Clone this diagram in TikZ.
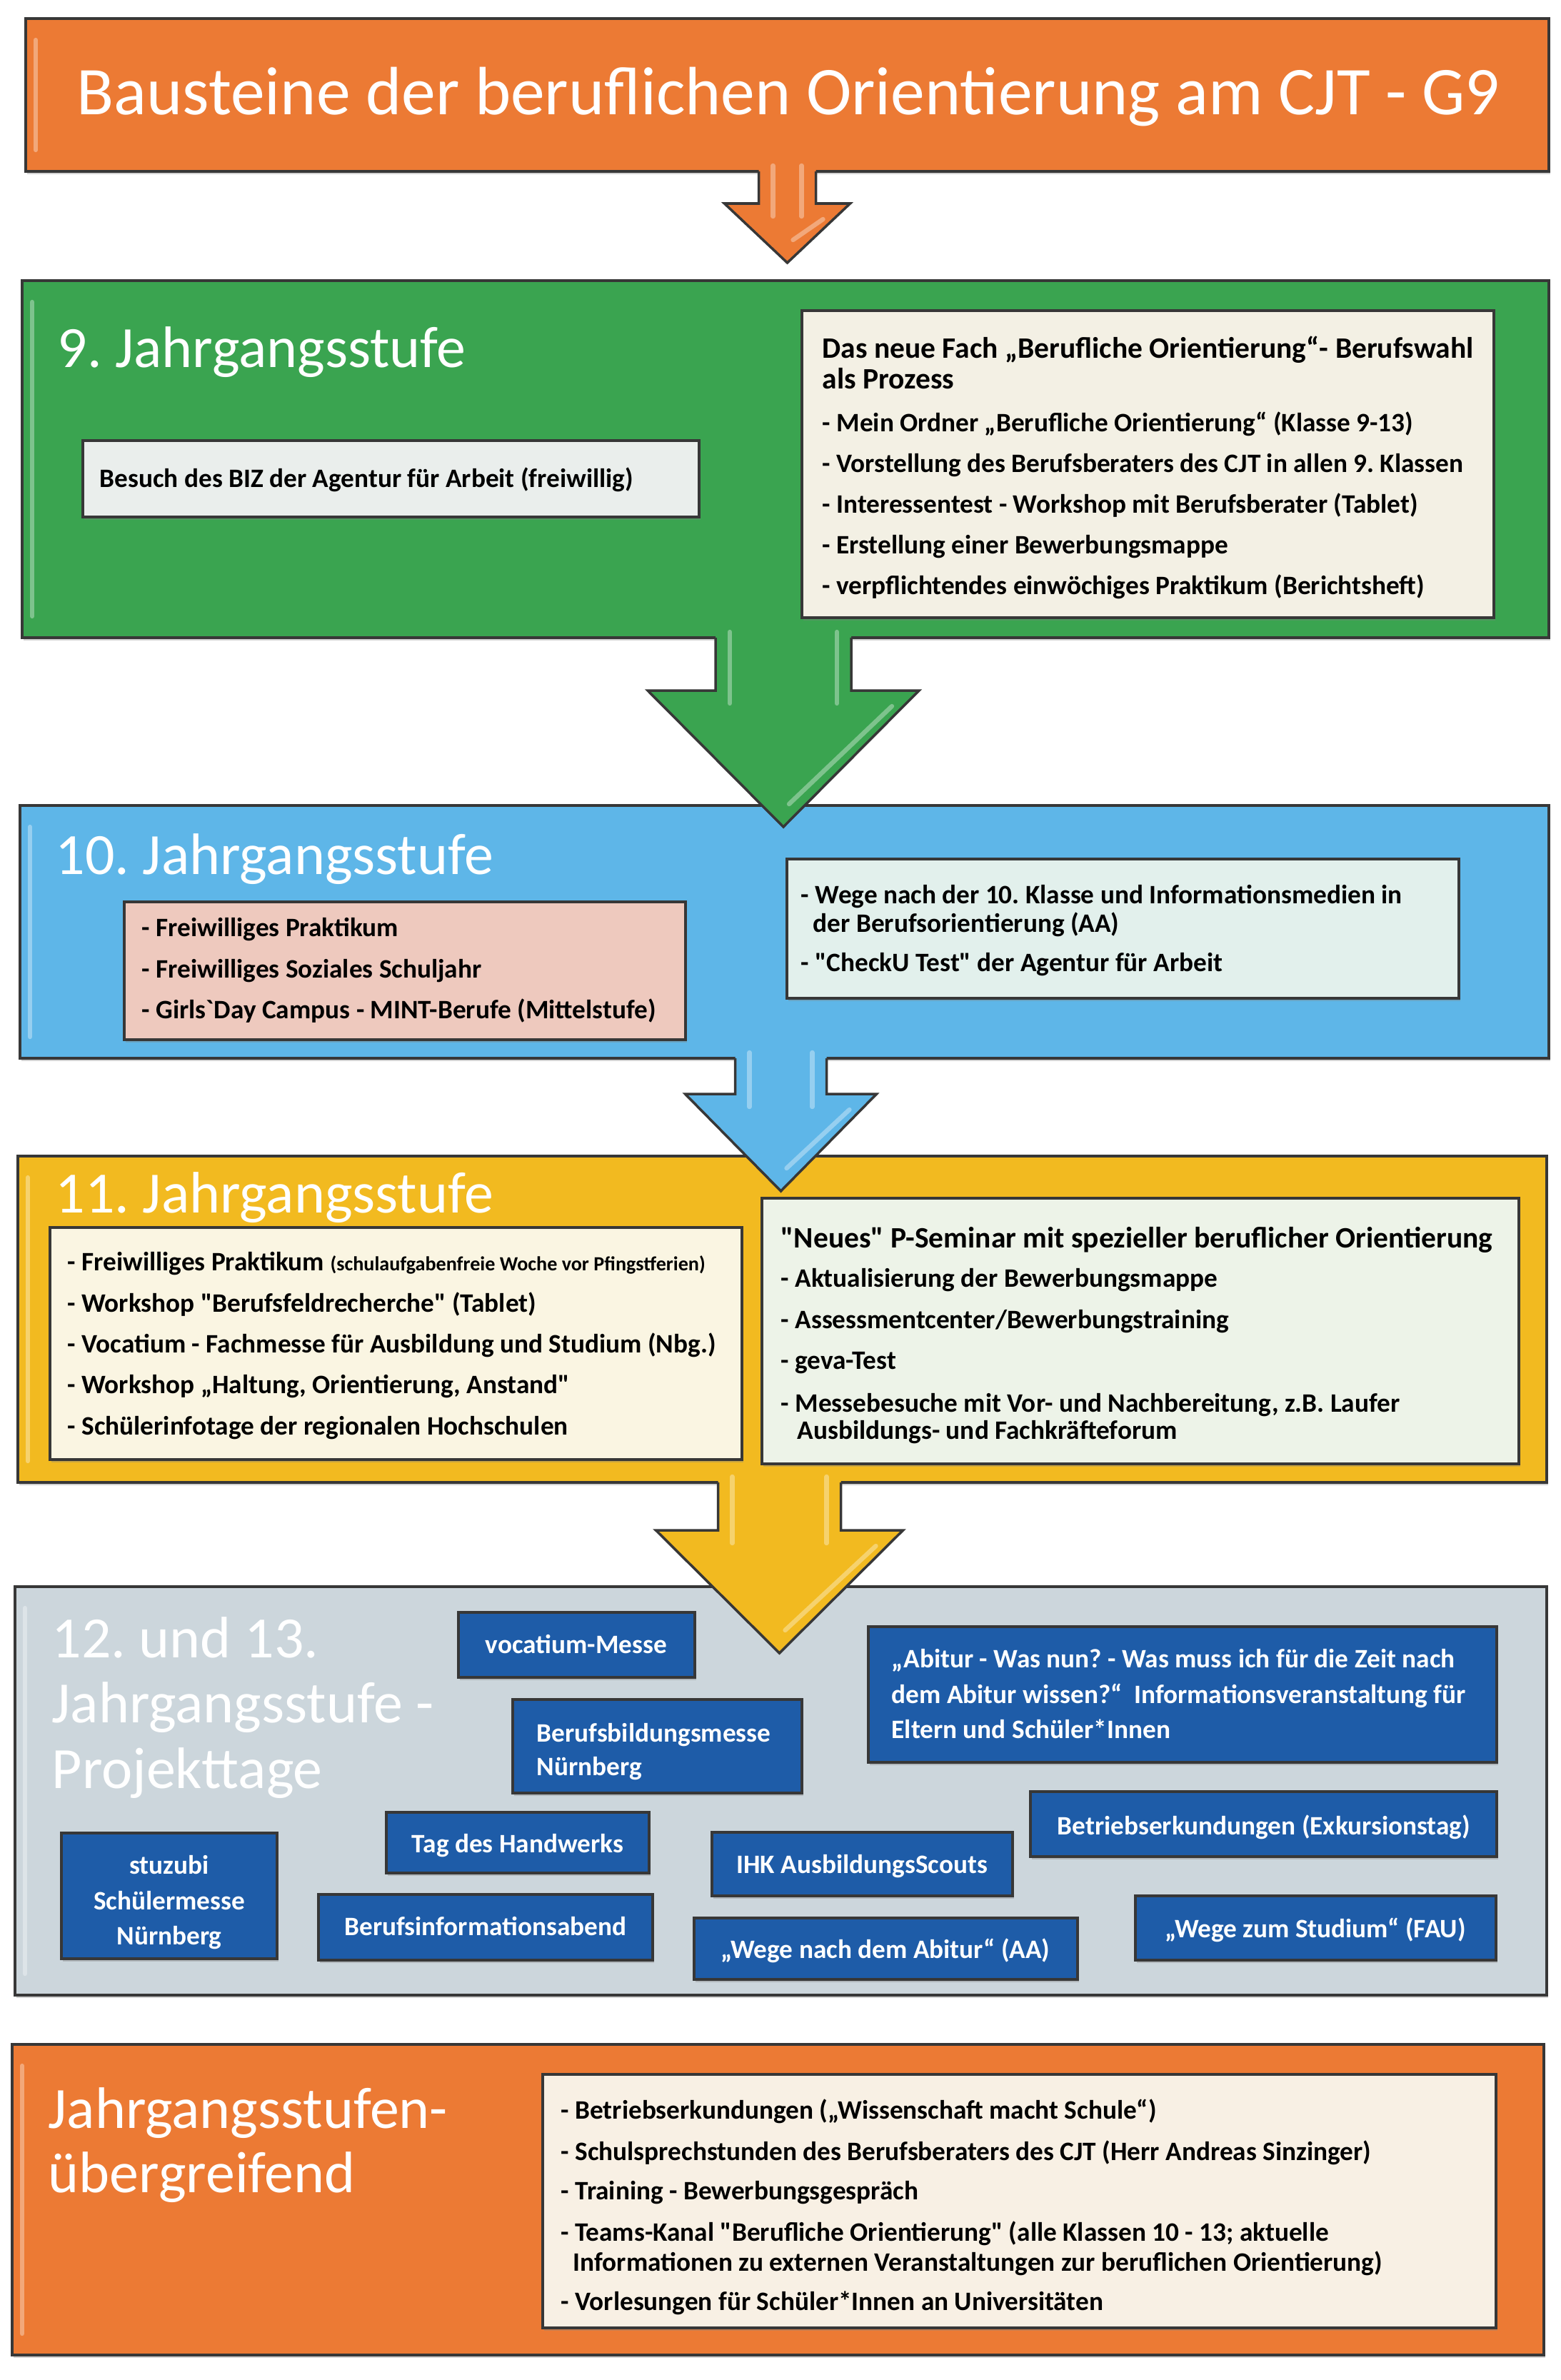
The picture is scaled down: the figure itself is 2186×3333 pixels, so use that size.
\documentclass[tikz,border=0pt]{standalone}
\usepackage{fontspec}
\setmainfont{Carlito}[Ligatures=TeXOff]
\frenchspacing
\usetikzlibrary{calc,shadows}
\definecolor{cOrange}{RGB}{236,122,52}
\definecolor{cGreen}{RGB}{58,164,80}
\definecolor{cBlue}{RGB}{94,182,232}
\definecolor{cYellow}{RGB}{242,186,32}
\definecolor{cGray}{RGB}{204,214,220}
\definecolor{cDark}{RGB}{30,92,168}
\definecolor{cEdge}{RGB}{55,55,55}
\definecolor{cBiz}{RGB}{234,238,236}
\definecolor{cCream}{RGB}{243,240,228}
\definecolor{cPink}{RGB}{238,201,190}
\definecolor{cMint}{RGB}{226,240,236}
\definecolor{cIvory}{RGB}{250,245,226}
\definecolor{cPale}{RGB}{237,243,232}
\definecolor{cWarm}{RGB}{248,240,228}
\tikzset{
  bandbox/.style={draw=cEdge, line width=1pt, inner sep=0pt, outer sep=0pt,
    drop shadow={shadow xshift=0.6pt, shadow yshift=-1.2pt, opacity=0.35}},
  cardbox/.style={draw=cEdge, line width=1pt, inner sep=0pt, outer sep=0pt,
    drop shadow={shadow xshift=0.5pt, shadow yshift=-1pt, opacity=0.35}},
  darkbox/.style={cardbox, fill=cDark},
  ttltxt/.style={font=\fontsize{27.2}{32}\selectfont, text=white, inner sep=0pt},
  headtxt/.style={font=\fontsize{23.3}{28}\selectfont, text=white, inner sep=0pt, anchor=base west},
  itemtxt/.style={font=\bfseries\fontsize{10.6}{12.7}\selectfont, text=black, inner sep=0pt, anchor=base west},
  bighead/.style={font=\bfseries\fontsize{11.8}{14}\selectfont, text=black, inner sep=0pt, anchor=base west},
  wtxt/.style={font=\bfseries\fontsize{10.6}{12.7}\selectfont, text=white, inner sep=0pt, anchor=base},
  wtxtl/.style={wtxt, anchor=base west},
  hlight/.style={draw=white, opacity=0.35, line width=1.8pt, line cap=round},
}
% #1 name, #2 style, #3 x1, #4 y1, #5 x2, #6 y2
\newcommand\boxat[6]{\node[#2, anchor=north west, minimum width={(#5-#3)*0.01cm}, minimum height={(#6-#4)*0.01cm}] (#1) at (#3,#4) {};}
\newcommand\bandlight[1]{\draw[hlight] ($(#1.north west)+(14,30)$) -- ($(#1.south west)+(14,-30)$);}
% #1 colour, #2 source node, #3 x offset, #4 shaft half width, #5 head half width, #6 head top, #7 tip, #8 tip name
\newcommand\blockarrow[8]{%
  \coordinate (#8) at ($(#2.south)+(#3,#7)$);
  \fill[#1] ($(#2.south)+({#3-#4},-12)$) -- ($(#2.south)+({#3-#4},#6)$) -- ($(#2.south)+({#3-#5},#6)$) -- (#8)
     -- ($(#2.south)+({#3+#5},#6)$) -- ($(#2.south)+({#3+#4},#6)$) -- ($(#2.south)+({#3+#4},-12)$) -- cycle;
  \draw[cEdge, line width=1pt, line join=miter] ($(#2.south)+({#3-#4},0)$) -- ($(#2.south)+({#3-#4},#6)$) -- ($(#2.south)+({#3-#5},#6)$) -- (#8)
     -- ($(#2.south)+({#3+#5},#6)$) -- ($(#2.south)+({#3+#4},#6)$) -- ($(#2.south)+({#3+#4},0)$);
  \draw[hlight] ($(#2.south)+({#3-#4+20},-8)$) -- ($(#2.south)+({#3-#4+20},{#6+18})$);
  \draw[hlight] ($(#2.south)+({#3+#4-20},-8)$) -- ($(#2.south)+({#3+#4-20},{#6+18})$);
  \draw[hlight] ($(#2.south)+({#3+#5-38},{#6+22})$) -- ($(#2.south)+({#3+8},{#7-32})$);
}
\begin{document}
\begin{tikzpicture}[x=0.01cm, y=-0.01cm]
\useasboundingbox (0,0) rectangle (2186,3333);
\fill[white] (0,0) rectangle (2186,3333);

% ---------- title ----------
\boxat{title}{bandbox, fill=cOrange}{36}{26}{2169}{240}
\bandlight{title}
\node[ttltxt, anchor=base] (ttl) at (1104,160) {Bausteine der beruflichen Orientierung am CJT - G9};

% ---------- 9 ----------
\boxat{green}{bandbox, fill=cGreen}{31}{393}{2169}{893}
\bandlight{green}
\node[headtxt] (h9) at (80,514) {9. Jahrgangsstufe};
\boxat{biz}{cardbox, fill=cBiz}{116}{617}{979}{724}
\node[itemtxt] (bizt) at (139,682) {Besuch des BIZ der Agentur für Arbeit (freiwillig)};
\boxat{gright}{cardbox, fill=cCream}{1123}{435}{2092}{865}
\node[bighead] (g1) at (1151,501) {Das neue Fach „Berufliche Orientierung“- Berufswahl};
\node[bighead] (g2) at (1151,544) {als Prozess};
\node[itemtxt] (g3) at (1151,604) {- Mein Ordner „Berufliche Orientierung“ (Klasse 9-13)};
\node[itemtxt] (g4) at (1151,661) {- Vorstellung des Berufsberaters des CJT in allen 9. Klassen};
\node[itemtxt] (g5) at (1151,718) {- Interessentest - Workshop mit Berufsberater (Tablet)};
\node[itemtxt] (g6) at (1151,775) {- Erstellung einer Bewerbungsmappe};
\node[itemtxt] (g7) at (1151,832) {- verpflichtendes einwöchiges Praktikum (Berichtsheft)};

% ---------- 10 ----------
\boxat{blue}{bandbox, fill=cBlue}{28}{1128}{2169}{1482}
\bandlight{blue}
\node[headtxt] (h10) at (77,1224) {10. Jahrgangsstufe};
\boxat{pink}{cardbox, fill=cPink}{174}{1263}{960}{1456}
\node[itemtxt] (p1) at (198,1311) {- Freiwilliges Praktikum};
\node[itemtxt] (p2) at (198,1369) {- Freiwilliges Soziales Schuljahr};
\node[itemtxt] (p3) at (198,1426) {- Girls\textasciigrave Day Campus - MINT-Berufe (Mittelstufe)};
\boxat{bright}{cardbox, fill=cMint}{1102}{1203}{2043}{1398}
\node[itemtxt] (r1) at (1121,1265) {- Wege nach der 10. Klasse und Informationsmedien in};
\node[itemtxt] (r2) at (1138,1305) {der Berufsorientierung (AA)};
\node[itemtxt] (r3) at (1121,1360) {- "CheckU Test" der Agentur für Arbeit};

% ---------- 11 ----------
\boxat{yellow}{bandbox, fill=cYellow}{25}{1619}{2166}{2076}
\bandlight{yellow}
\node[headtxt] (h11) at (77,1698) {11. Jahrgangsstufe};
\boxat{yleft}{cardbox, fill=cIvory}{70}{1719}{1039}{2044}
\node[itemtxt] (y1) at (94,1779) {- Freiwilliges Praktikum {\fontsize{8}{10}\selectfont (schulaufgabenfreie Woche vor Pfingstferien)}};
\node[itemtxt] (y2) at (94,1837) {- Workshop "Berufsfeldrecherche" (Tablet)};
\node[itemtxt] (y3) at (94,1894) {- Vocatium - Fachmesse für Ausbildung und Studium (Nbg.)};
\node[itemtxt] (y4) at (94,1951) {- Workshop „Haltung, Orientierung, Anstand"};
\node[itemtxt] (y5) at (94,2009) {- Schülerinfotage der regionalen Hochschulen};
\boxat{yright}{cardbox, fill=cPale}{1067}{1678}{2127}{2050}
\node[bighead] (z1) at (1093,1747) {"Neues" P-Seminar mit spezieller beruflicher Orientierung};
\node[itemtxt] (z2) at (1093,1802) {- Aktualisierung der Bewerbungsmappe};
\node[itemtxt] (z3) at (1093,1860) {- Assessmentcenter/Bewerbungstraining};
\node[itemtxt] (z4) at (1093,1917) {- geva-Test};
\node[itemtxt] (z5) at (1093,1977) {- Messebesuche mit Vor- und Nachbereitung, z.B. Laufer};
\node[itemtxt] (z6) at (1116,2015) {Ausbildungs- und Fachkräfteforum};

% ---------- 12/13 ----------
\boxat{gray}{bandbox, fill=cGray}{21}{2222}{2166}{2794}
\bandlight{gray}
\node[headtxt] (h12a) at (72,2321) {12. und 13.};
\node[headtxt] (h12b) at (72,2412) {Jahrgangsstufe -};
\node[headtxt] (h12c) at (72,2504) {Projekttage};

\boxat{vocat}{darkbox}{642}{2258}{973}{2349}
\node[wtxt] (vocatt) at (807,2315) {vocatium-Messe};
\boxat{bbm}{darkbox}{718}{2380}{1123}{2511}
\node[wtxtl] (bbm1) at (751,2439) {Berufsbildungsmesse};
\node[wtxtl] (bbm2) at (751,2486) {Nürnberg};
\boxat{abi}{darkbox}{1216}{2278}{2096}{2468}
\node[wtxtl] (abi1) at (1248,2335) {„Abitur - Was nun? - Was muss ich für die Zeit nach};
\node[wtxtl] (abi2) at (1248,2385) {dem Abitur wissen?“\ \ Informationsveranstaltung für};
\node[wtxtl] (abi3) at (1248,2434) {Eltern und Schüler*Innen};
\boxat{stuz}{darkbox}{86}{2567}{388}{2743}
\node[wtxt] (stuz1) at (237,2624) {stuzubi};
\node[wtxt] (stuz2) at (237,2674) {Schülermesse};
\node[wtxt] (stuz3) at (237,2723) {Nürnberg};
\boxat{tdh}{darkbox}{541}{2538}{909}{2623}
\node[wtxt] (tdht) at (725,2594) {Tag des Handwerks};
\boxat{bia}{darkbox}{446}{2653}{914}{2745}
\node[wtxt] (biat) at (680,2710) {Berufsinformationsabend};
\boxat{ihk}{darkbox}{997}{2566}{1418}{2655}
\node[wtxt] (ihkt) at (1207,2623) {IHK AusbildungsScouts};
\boxat{bek}{darkbox}{1443}{2509}{2096}{2600}
\node[wtxt] (bekt) at (1770,2569) {Betriebserkundungen (Exkursionstag)};
\boxat{wna}{darkbox}{972}{2686}{1509}{2772}
\node[wtxt] (wnat) at (1240,2742) {„Wege nach dem Abitur“ (AA)};
\boxat{wzs}{darkbox}{1590}{2655}{2095}{2745}
\node[wtxt] (wzst) at (1842,2713) {„Wege zum Studium“ (FAU)};

% ---------- uebergreifend ----------
\boxat{bottom}{bandbox, fill=cOrange}{17}{2863}{2162}{3298}
\bandlight{bottom}
\node[headtxt] (hua) at (67,2980) {Jahrgangsstufen-};
\node[headtxt] (hub) at (67,3070) {übergreifend};
\boxat{binner}{cardbox, fill=cWarm}{760}{2905}{2095}{3260}
\node[itemtxt] (u1) at (785,2967) {- Betriebserkundungen („Wissenschaft macht Schule“)};
\node[itemtxt] (u2) at (785,3025) {- Schulsprechstunden des Berufsberaters des CJT (Herr Andreas Sinzinger)};
\node[itemtxt] (u3) at (785,3080) {- Training - Bewerbungsgespräch};
\node[itemtxt] (u4) at (785,3138) {- Teams-Kanal "Berufliche Orientierung" (alle Klassen 10 - 13; aktuelle};
\node[itemtxt] (u5) at (802,3180) {Informationen zu externen Veranstaltungen zur beruflichen Orientierung)};
\node[itemtxt] (u6) at (785,3235) {- Vorlesungen für Schüler*Innen an Universitäten};

% ---------- arrows ----------
\blockarrow{cOrange}{title}{0}{40}{88}{45}{128}{tip1}
\blockarrow{cGreen}{green}{-3}{95}{190}{74}{265}{tip2}
\blockarrow{cBlue}{blue}{-5}{64}{134}{50}{186}{tip3}
\blockarrow{cYellow}{yellow}{-4}{86}{173}{67}{239}{tip4}
\end{tikzpicture}
\end{document}
